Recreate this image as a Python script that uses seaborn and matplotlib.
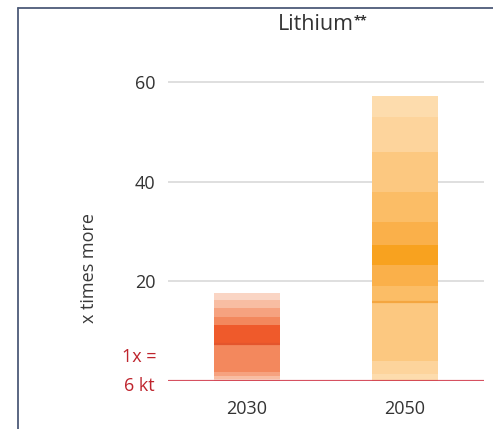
import matplotlib
matplotlib.use("Agg")
import matplotlib.pyplot as plt
import matplotlib.transforms as mtransforms
from matplotlib.lines import Line2D
import pandas as pd
import seaborn as sns

# ---- data: demand in 2030 / 2050 as multiples of today (1x = 6 kt) ----
years = ["2030", "2050"]

# nested scenario ranges, outer -> inner (inner = densest cluster)
lo_2030 = [0.0, 0.4, 1.0, 1.8, 7.2]
hi_2030 = [17.7, 16.2, 14.6, 12.8, 11.2]
lo_2050 = [0.0, 1.5, 4.0, 15.8, 19.0, 23.2]
hi_2050 = [57.1, 53.0, 46.0, 38.0, 32.0, 27.2]
median = [7.4, 15.8]

yticks = [20, 40, 60]
title = "Lithium"
title_mark = "**"
ylabel = "x times more"
base_labels = ["1x =", "6 kt"]

# ---- colours, light -> dark ----
shades = {
    "2030": ["#fad5c4", "#f8bda2", "#f6a27f", "#f3885d", "#ef5a2b"],
    "2050": ["#fddcad", "#fdd49c", "#fcc880", "#fbbd66", "#fab04a", "#f8a21f"],
}
median_col = ["#e4552c", "#f4a640"]
txt = "#333333"
red = "#bf242d"

sns.set_style("white")
plt.rcParams["font.family"] = ["Open Sans", "DejaVu Sans"]

fig = plt.figure(figsize=(4.93, 4.29), dpi=100)
ax = fig.add_axes([168 / 493, 1 - 381 / 429, 316 / 493, (381 - 67) / 429])

bands = []
for yr, lo, hi in [("2030", lo_2030, hi_2030), ("2050", lo_2050, hi_2050)]:
    for i, (a, b) in enumerate(zip(lo, hi)):
        bands.append({"year": yr, "lo": a, "span": b - a, "shade": shades[yr][i]})
df = pd.DataFrame(bands)

for _, row in df.iterrows():
    sns.barplot(x=[row["year"]], y=[row["span"]], order=years, bottom=row["lo"],
                color=row["shade"], width=0.42, saturation=1, linewidth=0,
                ax=ax, zorder=2)

# median marks
for i, m in enumerate(median):
    ax.hlines(m, i - 0.21, i + 0.21, color=median_col[i], lw=1.6, zorder=3)

ax.axhline(0, color="#cf3345", lw=2.3, alpha=0.85, zorder=4)

ax.set_xlim(-0.5, 1.5)
ax.set_ylim(0, 63)
ax.set_yticks(yticks)
ax.yaxis.grid(True, color="#d9d9d9", lw=1.2)
ax.set_axisbelow(True)
sns.despine(ax=ax, left=True, bottom=True)
ax.tick_params(axis="both", length=0, labelcolor=txt, labelsize=13)
ax.tick_params(axis="y", pad=9)
ax.tick_params(axis="x", pad=14)
ax.set_xlabel("")
ax.set_ylabel(ylabel, fontsize=13, color="#3a3a3a")
ax.yaxis.set_label_coords(-0.22, 0.36)

trans = mtransforms.blended_transform_factory(ax.transAxes, ax.transData)
ax.text(-0.035, 4.8, base_labels[0], transform=trans, ha="right", va="center",
        color=red, fontsize=13)
ax.text(-0.042, -1.0, base_labels[1], transform=trans, ha="right", va="center",
        color=red, fontsize=13)

t = fig.text(316 / 493, 1 - 25 / 429, title, ha="center", va="center",
             color=txt, fontsize=15.5)
ax.annotate(title_mark, xy=(1.0, 1.0), xycoords=t, ha="left", va="top",
            color=txt, fontsize=9, fontweight="bold")

# panel frame (left and top rule)
frame = "#4d5b78"
fig.add_artist(Line2D([18 / 493, 18 / 493], [0, 1 - 8 / 429],
                      transform=fig.transFigure, color=frame, lw=1.3))
fig.add_artist(Line2D([18 / 493, 1], [1 - 8 / 429, 1 - 8 / 429],
                      transform=fig.transFigure, color=frame, lw=1.3))

fig.savefig("out.png", dpi=100)
